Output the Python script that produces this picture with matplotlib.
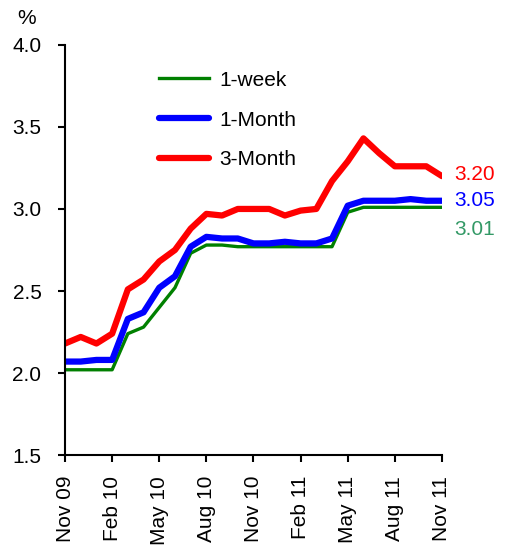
import matplotlib
matplotlib.use("Agg")
import matplotlib.pyplot as plt
import numpy as np

plt.rcParams['font.family'] = ['Liberation Sans', 'DejaVu Sans']
plt.rcParams['font.size'] = 15

# monthly, Nov 09 .. Nov 11
months = ['Nov 09', 'Dec 09', 'Jan 10', 'Feb 10', 'Mar 10', 'Apr 10', 'May 10', 'Jun 10',
          'Jul 10', 'Aug 10', 'Sep 10', 'Oct 10', 'Nov 10', 'Dec 10', 'Jan 11', 'Feb 11',
          'Mar 11', 'Apr 11', 'May 11', 'Jun 11', 'Jul 11', 'Aug 11', 'Sep 11', 'Oct 11', 'Nov 11']
week1 = [2.02, 2.02, 2.02, 2.02, 2.24, 2.28, 2.40, 2.52, 2.73, 2.78, 2.78, 2.77, 2.77,
         2.77, 2.77, 2.77, 2.77, 2.77, 2.98, 3.01, 3.01, 3.01, 3.01, 3.01, 3.01]
month1 = [2.07, 2.07, 2.08, 2.08, 2.33, 2.37, 2.52, 2.59, 2.77, 2.83, 2.82, 2.82, 2.79,
          2.79, 2.80, 2.79, 2.79, 2.82, 3.02, 3.05, 3.05, 3.05, 3.06, 3.05, 3.05]
month3 = [2.18, 2.22, 2.18, 2.24, 2.51, 2.57, 2.68, 2.75, 2.88, 2.97, 2.96, 3.00, 3.00,
          3.00, 2.96, 2.99, 3.00, 3.17, 3.29, 3.43, 3.34, 3.26, 3.26, 3.26, 3.20]

x = np.arange(len(months))

fig = plt.figure(figsize=(5.08, 5.47), dpi=100)
ax = fig.add_axes([0.128, 0.168, 0.742, 0.750])

ax.plot(x, week1, color='#008000', lw=2.4, label='1-week', solid_joinstyle='round')
ax.plot(x, month1, color='#0000ff', lw=4.5, label='1-Month', solid_capstyle='round', solid_joinstyle='round')
ax.plot(x, month3, color='#ff0000', lw=4.5, label='3-Month', solid_capstyle='round', solid_joinstyle='round')

# end labels
ax.annotate('%.2f' % month3[-1], (x[-1], month3[-1]), xytext=(9, 1), textcoords='offset points',
            color='#ff0000', va='center', ha='left', annotation_clip=False)
ax.annotate('%.2f' % month1[-1], (x[-1], month1[-1]), xytext=(9, 0), textcoords='offset points',
            color='#0000ff', va='center', ha='left', annotation_clip=False)
ax.annotate('%.2f' % week1[-1], (x[-1], week1[-1]), xytext=(9, -16), textcoords='offset points',
            color='#339966', va='center', ha='left', annotation_clip=False)

ax.set_xlim(0, len(months) - 1)
ax.set_ylim(1.5, 4.0)
ax.set_yticks(np.arange(1.5, 4.01, 0.5))
ax.yaxis.set_major_formatter(matplotlib.ticker.FormatStrFormatter('%.1f'))
ax.set_xticks(x[::3])
ax.set_xticklabels(months[::3], rotation=90)

for s in ['top', 'right']:
    ax.spines[s].set_visible(False)
for s in ['left', 'bottom']:
    ax.spines[s].set_linewidth(1.5)
ax.tick_params(axis='both', direction='out', length=5, width=1.5)
ax.tick_params(axis='y', pad=12)
ax.tick_params(axis='x', pad=10)

fig.text(0.053, 0.967, '%', ha='center', va='center')

ax.legend(loc='upper left', bbox_to_anchor=(0.25, 0.937), frameon=False,
          handlelength=2.4, handletextpad=0.5, labelspacing=1.0, borderpad=0, borderaxespad=0)

fig.savefig('out.png', dpi=100)
